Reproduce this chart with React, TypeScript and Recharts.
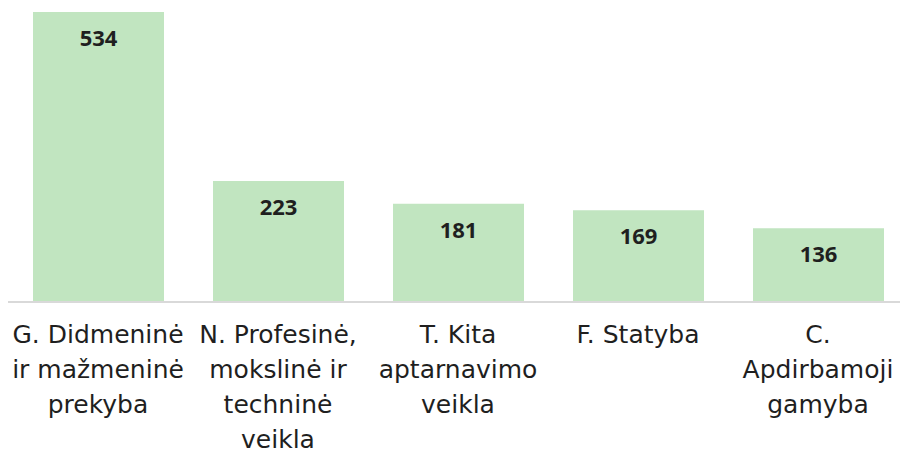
import React from 'react';
import { BarChart, Bar, XAxis, YAxis, LabelList } from 'recharts';

const categories = [
  'G. Didmeninė ir mažmeninė prekyba',
  'N. Profesinė, mokslinė ir techninė veikla',
  'T. Kita aptarnavimo veikla',
  'F. Statyba',
  'C. Apdirbamoji gamyba',
];
const counts = [534, 223, 181, 169, 136];
const tickLines = [
  ['G. Didmeninė', 'ir mažmeninė', 'prekyba'],
  ['N. Profesinė,', 'mokslinė ir', 'techninė', 'veikla'],
  ['T. Kita', 'aptarnavimo', 'veikla'],
  ['F. Statyba'],
  ['C.', 'Apdirbamoji', 'gamyba'],
];

const data = categories.map((name, i) => ({ name, count: counts[i], idx: i }));

const TEXT = '#1f1f1f';

function CategoryTick(props: any) {
  const { x, y, payload } = props;
  const lines = tickLines[payload.index] || [payload.value];
  return (
    <text x={x} y={y} textAnchor="middle" fill={TEXT} fontFamily="DejaVu Sans" fontSize={25}>
      {lines.map((line: string, i: number) => (
        <tspan key={i} x={x} y={y + 41 + i * 35}>
          {line}
        </tspan>
      ))}
    </text>
  );
}

function ValueLabel(props: any) {
  const { x, y, width, value } = props;
  return (
    <text
      x={x + width / 2}
      y={y + 34}
      textAnchor="middle"
      fill={TEXT}
      fontFamily="Open Sans"
      fontWeight={700}
      fontSize={22}
    >
      {value}
    </text>
  );
}

export default function App() {
  return (
    <div style={{ position: 'absolute', left: 0, top: 0, width: 900, height: 451, overflow: 'hidden', background: '#fff' }}>
      <BarChart width={908} height={451} data={data} margin={{ top: 12, right: 0, left: 8, bottom: 0 }}>
        <XAxis
          dataKey="name"
          interval={0}
          height={149}
          tickLine={false}
          tickSize={0}
          tickMargin={0}
          axisLine={{ stroke: '#d9d9d9', strokeWidth: 2 }}
          tick={<CategoryTick />}
        />
        <YAxis hide domain={[0, 534]} />
        <Bar dataKey="count" fill="#c1e5c0" barSize={131} isAnimationActive={false}>
          <LabelList dataKey="count" content={<ValueLabel />} />
        </Bar>
      </BarChart>
    </div>
  );
}
